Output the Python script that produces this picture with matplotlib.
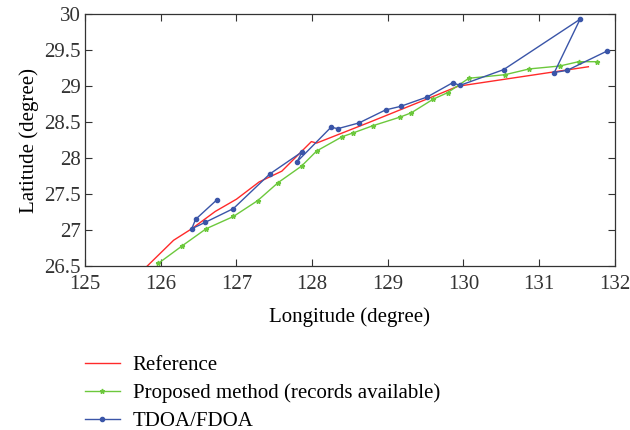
import matplotlib
matplotlib.use('Agg')
import matplotlib.pyplot as plt
from matplotlib.ticker import FormatStrFormatter, MultipleLocator

plt.rcParams['font.family'] = ['Liberation Serif', 'DejaVu Serif']

# reference track
ref_lon = [125.82, 126.17, 126.41, 126.72, 127.00, 127.30, 127.60, 127.99, 128.06,
           128.76, 129.49, 129.93, 131.65]
ref_lat = [26.50, 26.86, 27.02, 27.26, 27.43, 27.67, 27.82, 28.23, 28.21,
           28.50, 28.81, 29.00, 29.27]

# proposed method (records available)
prop_lon = [125.97, 126.28, 126.60, 126.96, 127.28, 127.55, 127.86, 128.06, 128.40,
            128.54, 128.80, 129.16, 129.31, 129.60, 129.79, 130.07, 130.55, 130.87,
            131.27, 131.52, 131.77]
prop_lat = [26.54, 26.78, 27.02, 27.19, 27.41, 27.66, 27.89, 28.10, 28.30,
            28.35, 28.45, 28.57, 28.63, 28.82, 28.91, 29.11, 29.16, 29.24,
            29.28, 29.34, 29.34]

# TDOA/FDOA
tdoa_lon = [126.74, 126.46, 126.41, 126.59, 126.96, 127.44, 127.87, 127.80, 128.25,
            128.34, 128.62, 128.97, 129.17, 129.52, 129.86, 129.95, 130.53, 131.54,
            131.20, 131.37, 131.90]
tdoa_lat = [27.42, 27.15, 27.02, 27.11, 27.30, 27.78, 28.09, 27.95, 28.43,
            28.41, 28.49, 28.67, 28.72, 28.85, 29.05, 29.01, 29.23, 29.93,
            29.19, 29.22, 29.49]

fig = plt.figure(figsize=(6.3, 4.3), dpi=100)
ax = fig.add_axes([0.135, 0.381, 0.841, 0.586])

ax.plot(ref_lon, ref_lat, color='#ff2a2a', lw=1.0, label='Reference')
ax.plot(prop_lon, prop_lat, color='#6cc83c', lw=1.0, marker='*', ms=3.5,
        label='Proposed method (records available)')
ax.plot(tdoa_lon, tdoa_lat, color='#3a55a8', lw=1.0, marker='o', ms=3,
        label='TDOA/FDOA')

ax.set_xlim(125, 132)
ax.set_ylim(26.5, 30)
ax.xaxis.set_major_locator(MultipleLocator(1))
ax.yaxis.set_major_locator(MultipleLocator(0.5))
ax.yaxis.set_major_formatter(FormatStrFormatter('%g'))
ax.tick_params(direction='in', top=True, right=True, length=5, width=0.8,
               labelsize=15, colors='#333333')
ax.tick_params(axis='x', pad=6)
ax.tick_params(axis='y', pad=3)
for s in ax.spines.values():
    s.set_color('#333333')
    s.set_linewidth(0.9)

ax.set_xlabel('Longitude (degree)', fontsize=15, labelpad=10)
ax.set_ylabel('Latitude (degree)', fontsize=15, labelpad=4)

ax.legend(loc='upper left', bbox_to_anchor=(-0.036, -0.28), frameon=False,
          fontsize=15, handlelength=1.7, labelspacing=0.4, handletextpad=0.6)

fig.savefig('out.png', dpi=100)
